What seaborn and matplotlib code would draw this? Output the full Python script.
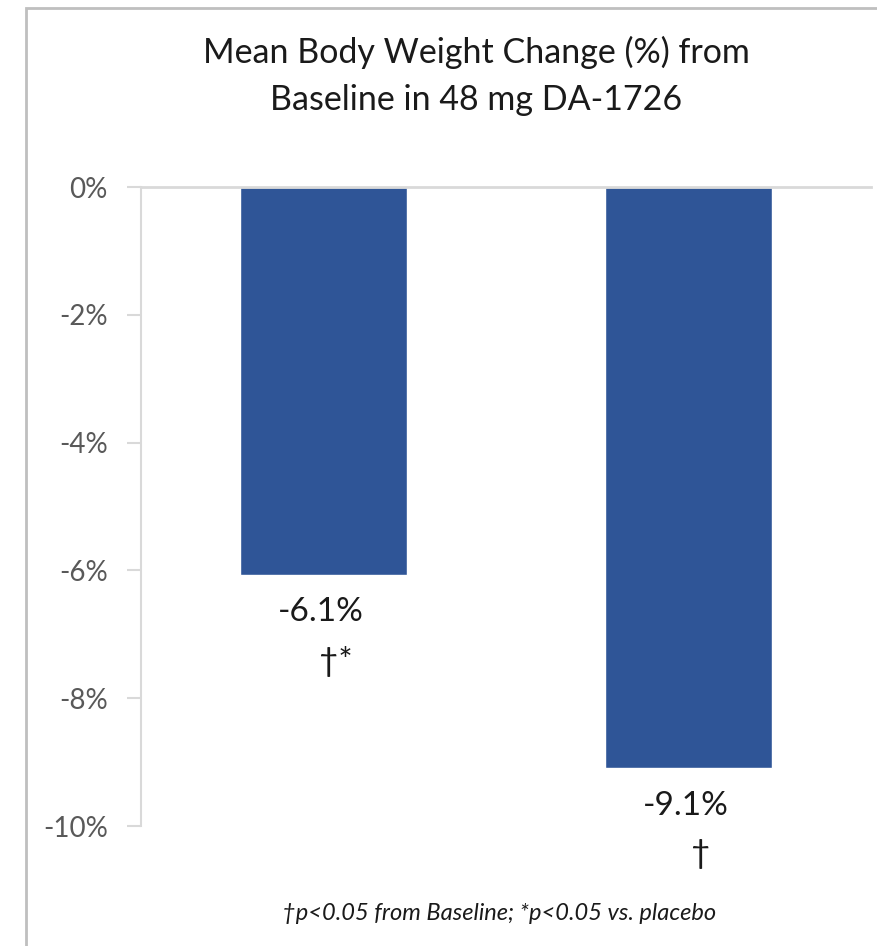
import seaborn as sns
import matplotlib.pyplot as plt
import matplotlib.ticker as mticker
import pandas as pd

groups = ['A', 'B']
change = [-6.07, -9.1]
value_text = ['-6.1%', '-9.1%']
sig_text = ['†*', '†']
yticks = [0, -2, -4, -6, -8, -10]

sns.set_style('white')
plt.rcParams['font.family'] = ['Lato', 'DejaVu Sans']

df = pd.DataFrame({'group': groups, 'change': change})

fig = plt.figure(figsize=(8.77, 9.46), dpi=100)
ax = fig.add_axes([141 / 877, 1 - 826 / 946, 730 / 877, (826 - 187) / 946])

sns.barplot(data=df, x='group', y='change', color='#2F5597', saturation=1,
            width=0.455, ax=ax)

ax.set_xlim(-0.5, 1.5)
ax.set_ylim(-10, 0)
ax.set_yticks(yticks)
ax.yaxis.set_major_formatter(mticker.FuncFormatter(lambda v, p: '%d%%' % v))
ax.tick_params(axis='y', labelsize=20, labelcolor='#595959', length=10,
               color='#D9D9D9', width=1.5, pad=14, left=True)
ax.tick_params(axis='x', bottom=False, labelbottom=False)
ax.set_xlabel('')
ax.set_ylabel('')

for s in ['right', 'bottom']:
    ax.spines[s].set_visible(False)
ax.spines['left'].set_color('#D9D9D9')
ax.spines['left'].set_linewidth(1.5)
ax.spines['top'].set_color('#D9D9D9')
ax.spines['top'].set_linewidth(2)

for i, (v, t1, t2) in enumerate(zip(change, value_text, sig_text)):
    ax.annotate(t1, (i, v), xytext=(-2, -16), textcoords='offset points',
                ha='center', va='top', fontsize=24, color='#1a1a1a')
    ax.annotate(t2, (i, v), xytext=(9, -51), textcoords='offset points',
                ha='center', va='top', fontsize=24, color='#1a1a1a')

fig.text(476 / 877, 1 - 52 / 946, 'Mean Body Weight Change (%) from',
         ha='center', va='center', fontsize=24.5, color='#1a1a1a')
fig.text(476 / 877, 1 - 100 / 946, 'Baseline in 48 mg DA-1726',
         ha='center', va='center', fontsize=24.5, color='#1a1a1a')
fig.text(499 / 877, 1 - 913 / 946, '†p<0.05 from Baseline; *p<0.05 vs. placebo',
         ha='center', va='center', fontsize=17, style='italic', color='#1a1a1a')

# outer chart border
fig.add_artist(plt.Rectangle((26 / 877, -0.1), 1.0, 1 - 8 / 946 + 0.1,
                             transform=fig.transFigure, fill=False,
                             edgecolor='#BFBFBF', linewidth=2))

plt.savefig('out.png', dpi=100)
